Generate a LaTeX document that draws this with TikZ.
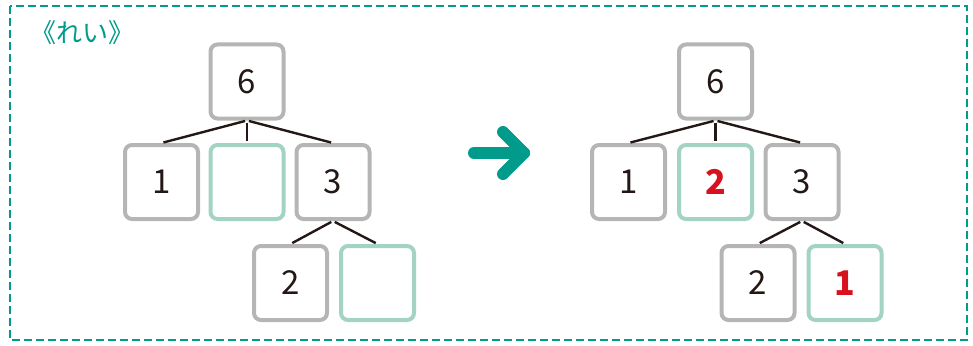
\documentclass[tikz,border=0pt]{standalone}
\usepackage{fontspec}
\setmainfont{Noto Sans CJK JP}
\newfontfamily\jpfont{Noto Sans CJK JP}
\definecolor{boxgray}{HTML}{B5B5B5}
\definecolor{boxteal}{HTML}{A3D3C3}
\definecolor{numred}{HTML}{D7111E}
\definecolor{mainteal}{HTML}{009B8A}
\definecolor{linedark}{HTML}{231815}
\tikzset{
  numbox/.style={draw=boxgray, line width=4pt, rounded corners=7pt, minimum width=73pt, minimum height=74pt, inner sep=0pt, font=\fontsize{33}{33}\selectfont, text=linedark},
  ansbox/.style={numbox, draw=boxteal},
  rednum/.style={text=numred, font=\fontsize{34}{34}\selectfont\bfseries},
  conn/.style={draw=linedark, line width=2.4pt, shorten <=2pt, shorten >=2pt},
}
\begin{document}
\begin{tikzpicture}[x=1pt,y=-1pt]
\useasboundingbox (0,0) rectangle (973,345);
\draw[mainteal, line width=2pt, dash pattern=on 8pt off 4pt] (10,6) rectangle (967,340);
\node[anchor=west, text=mainteal, font=\jpfont\fontsize{26}{26}\selectfont, inner sep=0pt] (title) at (30,33) {《れい》};
% left tree
\node[numbox] (a6) at (247,81.5) {6};
\node[numbox] (a1) at (161.5,182) {1};
\node[ansbox] (ae) at (247,182) {};
\node[numbox] (a3) at (333,182) {3};
\node[numbox] (a2) at (290.5,283) {2};
\node[ansbox] (af) at (377.5,283) {};
\draw[conn] (a6.south) -- (a1.north);
\draw[conn] (a6.south) -- (ae.north);
\draw[conn] (a6.south) -- (a3.north);
\draw[conn] (a3.south) -- (a2.north);
\draw[conn] (a3.south) -- (af.north);
% arrow
\coordinate (arrS) at (474,153);
\coordinate (arrT) at (524,153);
\coordinate (arrU) at (503,132);
\coordinate (arrD) at (503,174);
\draw[mainteal, line width=12pt, line cap=round, line join=round] (arrS) -- (arrT);
\draw[mainteal, line width=12pt, line cap=round, line join=round] (arrU) -- (arrT) -- (arrD);
% right tree
\node[numbox] (b6) at (715.5,81.5) {6};
\node[numbox] (b1) at (628.5,182) {1};
\node[ansbox, rednum] (be) at (715.5,182) {2};
\node[numbox] (b3) at (802,182) {3};
\node[numbox] (b2) at (758,283) {2};
\node[ansbox, rednum] (bf) at (845,283) {1};
\draw[conn] (b6.south) -- (b1.north);
\draw[conn] (b6.south) -- (be.north);
\draw[conn] (b6.south) -- (b3.north);
\draw[conn] (b3.south) -- (b2.north);
\draw[conn] (b3.south) -- (bf.north);
\end{tikzpicture}
\end{document}
